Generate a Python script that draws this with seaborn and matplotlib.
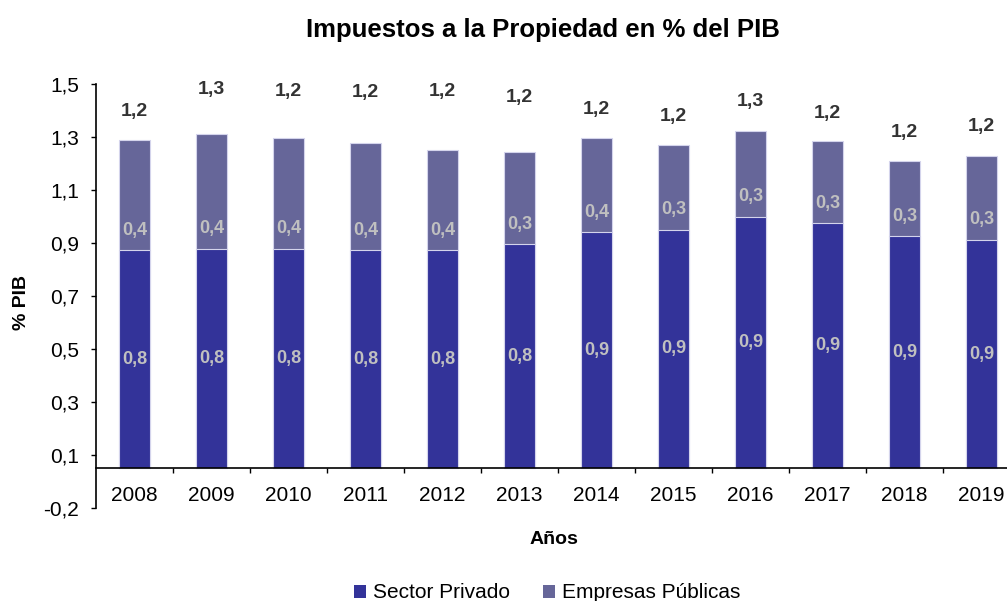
import numpy as np
import pandas as pd
import matplotlib
matplotlib.use("Agg")
import matplotlib.pyplot as plt
from matplotlib.patches import Patch
from matplotlib.ticker import FixedLocator
import seaborn as sns

# ---- data ----
years = ["2008", "2009", "2010", "2011", "2012", "2013",
         "2014", "2015", "2016", "2017", "2018", "2019"]
sector_privado = [0.822, 0.828, 0.828, 0.822, 0.822, 0.845,
                  0.890, 0.900, 0.950, 0.924, 0.875, 0.862]
empresas_publicas = [0.418, 0.434, 0.420, 0.406, 0.378, 0.349,
                     0.356, 0.320, 0.323, 0.310, 0.285, 0.317]
ytick_values = [-0.15, 0.05, 0.25, 0.45, 0.65, 0.85, 1.05, 1.25, 1.45]
ytick_labels = ["-0,2", "0,1", "0,3", "0,5", "0,7", "0,9", "1,1", "1,3", "1,5"]

# ---- layout / style (not data) ----
total_label_offsets_px = [28, 44, 46, 50, 59, 54, 29, 28, 29, 28, 28, 29]
c_priv = "#333399"
c_emp = "#666699"
edge_c = "#d4d4ec"

sns.set_style("white")
plt.rcParams["font.family"] = ["Liberation Sans", "DejaVu Sans"]
plt.rcParams["text.color"] = "black"
plt.rcParams["axes.labelcolor"] = "black"

df = pd.DataFrame({"Año": years,
                   "Sector Privado": sector_privado,
                   "Empresas Públicas": empresas_publicas})
df["Total"] = df["Sector Privado"] + df["Empresas Públicas"]

W, H = 1007, 601
fig = plt.figure(figsize=(W / 100, H / 100), dpi=100)
ax = fig.add_axes([96 / W, (H - 508) / H, 924 / W, 424 / H])

sns.barplot(data=df, x="Año", y="Total", color=c_emp, saturation=1,
            width=0.4, edgecolor=edge_c, linewidth=0.8, errorbar=None, ax=ax)
sns.barplot(data=df, x="Año", y="Sector Privado", color=c_priv, saturation=1,
            width=0.4, edgecolor=edge_c, linewidth=0.8, errorbar=None, ax=ax)

ax.set_xlim(-0.5, len(years) - 0.5)
ax.set_ylim(-0.15, 1.45)

# spines
for s in ["top", "right"]:
    ax.spines[s].set_visible(False)
ax.spines["bottom"].set_position(("data", 0))
ax.spines["left"].set_color("black")
ax.spines["bottom"].set_color("black")
ax.spines["left"].set_linewidth(1.2)
ax.spines["bottom"].set_linewidth(1.2)

# y ticks
ax.set_yticks(ytick_values)
ax.set_yticklabels(ytick_labels)
ax.tick_params(axis="y", direction="out", length=3.6, width=1, pad=8.5,
               labelsize=15, colors="black", left=True)

# x ticks: labels at centers, marks at category boundaries
ax.tick_params(axis="x", which="major", length=0, pad=12.5, labelsize=15,
               colors="black")
ax.xaxis.set_minor_locator(FixedLocator(np.arange(0.5, len(years), 1.0)))
ax.tick_params(axis="x", which="minor", direction="out", length=3.6, width=1,
               bottom=True, colors="black")
ax.set_xlabel("")
ax.set_ylabel("")

def fmt(v):
    return f"{v:.1f}".replace(".", ",")

for i, row in df.iterrows():
    # private label (center of segment)
    ax.text(i, row["Sector Privado"] / 2, fmt(row["Sector Privado"]),
            ha="center", va="center", fontsize=13, fontweight="bold",
            color="#c0c0c0")
    # empresas label (inside base)
    ax.annotate(fmt(row["Empresas Públicas"]), xy=(i, row["Sector Privado"]),
                xytext=(0, 20), textcoords="offset pixels",
                ha="center", va="center", fontsize=13, fontweight="bold",
                color="#c0c0c0")
    # total label above
    ax.annotate(fmt(row["Total"]), xy=(i, row["Total"]),
                xytext=(0, total_label_offsets_px[i]), textcoords="offset pixels",
                ha="center", va="center", fontsize=14, fontweight="bold",
                color="#333333", annotation_clip=False)

fig.text(543 / W, 1 - 30 / H, "Impuestos a la Propiedad en % del PIB",
         ha="center", va="center", fontsize=18.5, fontweight="bold",
         color="black")
fig.text(22 / W, 1 - 303 / H, "% PIB", ha="center", va="center",
         rotation=90, fontsize=14, fontweight="bold", color="black")
fig.text(554 / W, 1 - 540 / H, "Años", ha="center", va="center",
         fontsize=14, fontweight="bold", color="black")

handles = [Patch(facecolor=c_priv, edgecolor="none", label="Sector Privado"),
           Patch(facecolor=c_emp, edgecolor="none", label="Empresas Públicas")]
leg = fig.legend(handles=handles, loc="center",
                 bbox_to_anchor=(547 / W, 1 - 593 / H),
                 ncol=2, frameon=False, fontsize=15, handlelength=0.6,
                 handleheight=0.6, handletextpad=0.3, columnspacing=1.6,
                 borderpad=0, borderaxespad=0)
for t in leg.get_texts():
    t.set_color("black")

fig.savefig("out.png", dpi=100)
